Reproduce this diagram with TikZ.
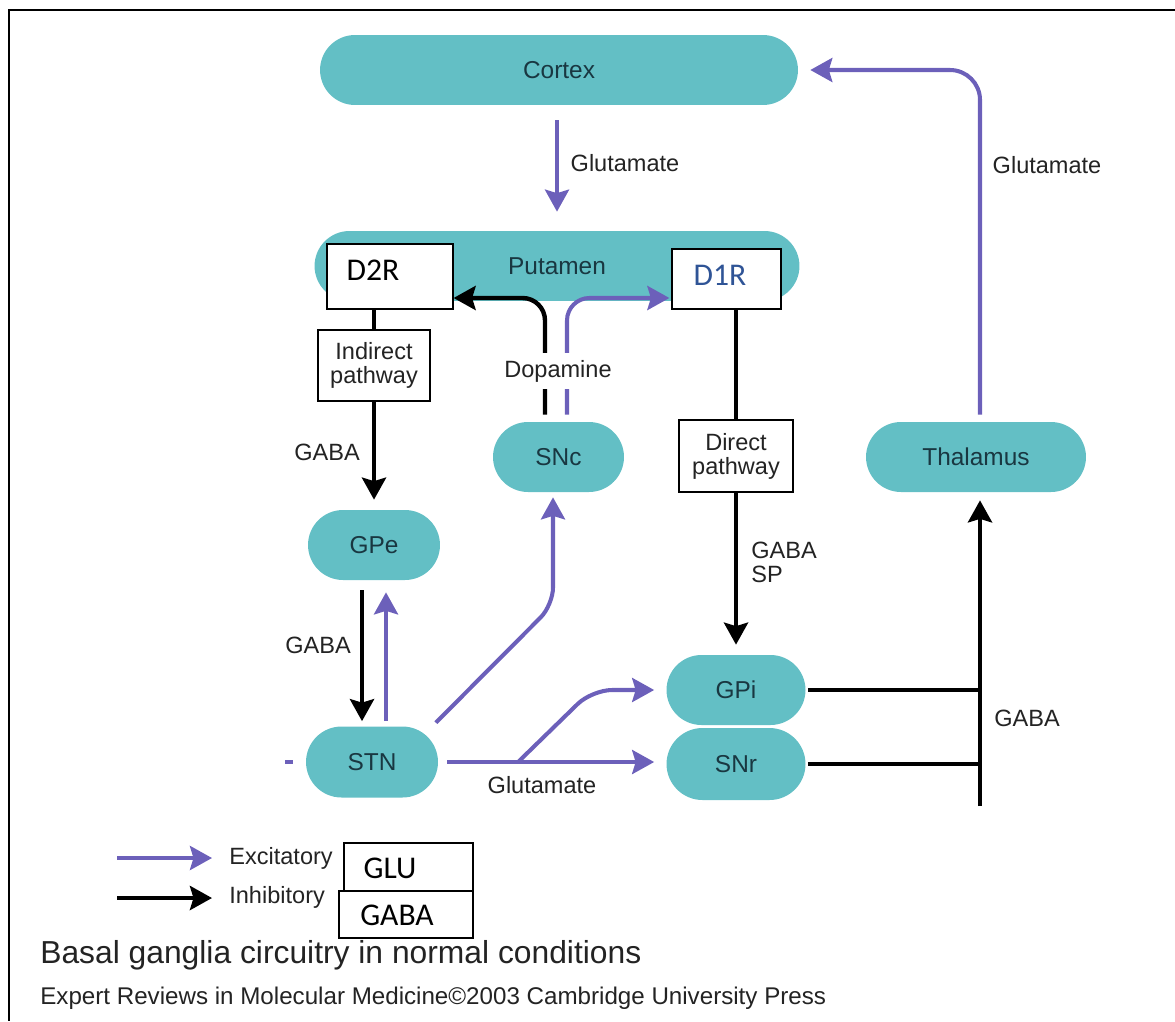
\documentclass[tikz,border=0pt]{standalone}
\usepackage{fontspec}
\setmainfont{Liberation Sans}
\newfontfamily\calib{Carlito}
\usetikzlibrary{arrows.meta,calc}
\definecolor{teal0}{RGB}{99,191,197}
\definecolor{purp}{RGB}{108,96,186}
\definecolor{ntext}{RGB}{25,55,65}
\definecolor{dblue}{RGB}{47,84,150}
\definecolor{lab}{RGB}{35,35,35}
\begin{document}
\begin{tikzpicture}[x=0.02cm,y=-0.02cm,
  nuc/.style={fill=teal0, draw=none, rounded corners=0.7cm, minimum height=1.4cm, inner sep=0pt,
    font=\fontsize{13.9}{16}\selectfont, text=ntext},
  pbox/.style={draw=black, line width=1.4pt, fill=white, inner sep=0pt, align=center,
    font=\fontsize{13.4}{13.6}\selectfont, text=lab},
  rbox/.style={draw=black, line width=0.7pt, fill=white, inner sep=0pt},
  rtext/.style={font=\calib\fontsize{18}{20}\selectfont, inner sep=0pt},
  lbl/.style={font=\fontsize{13.4}{13.6}\selectfont, text=lab, inner sep=0pt, align=left},
  tipS/.style={-{Stealth[length=0.44cm, width=0.48cm, inset=0.07cm]}},
  excl/.style={draw=purp, line width=2.3pt},
  exc/.style={excl, tipS},
  inhl/.style={draw=black, line width=2.5pt},
  inh/.style={inhl, tipS},
]
\useasboundingbox (0,0) rectangle (1175,1021);
% frame
\coordinate (fTL) at (9,10);
\coordinate (fTR) at (1175,10);
\coordinate (fBL) at (9,1021);
\draw[line width=1.2pt] (fTR) -- (fTL) -- (fBL);

% nuclei
\node[nuc, minimum width=9.56cm] (cortex) at (559,70) {Cortex};
\node[nuc, minimum width=9.7cm] (putamen) at (557,266) {Putamen};
\node[nuc, minimum width=2.62cm] (snc) at (558.5,457) {SNc};
\node[nuc, minimum width=4.4cm] (thal) at (976,457) {Thalamus};
\node[nuc, minimum width=2.64cm] (gpe) at (374,545) {GPe};
\node[nuc, minimum width=2.64cm, minimum height=1.42cm, rounded corners=0.71cm] (stn) at (372,762) {STN};
\node[nuc, minimum width=2.78cm] (gpi) at (736,690) {GPi};
\node[nuc, minimum width=2.78cm, minimum height=1.44cm, rounded corners=0.72cm] (snr) at (736,764) {SNr};

% receptor boxes
\node[rbox, minimum width=2.52cm, minimum height=1.3cm] (d2r) at (390,276.5) {};
\node[rtext] (d2rt) at (373,270) {D2R};
\node[rbox, minimum width=2.18cm, minimum height=1.2cm] (d1r) at (726.5,279) {};
\node[rtext, text=dblue] (d1rt) at (720,275) {D1R};

% pathway boxes
\node[pbox, minimum width=2.24cm, minimum height=1.42cm] (ind) at (374,365.5) {Indirect\\pathway};
\node[pbox, minimum width=2.28cm, minimum height=1.44cm] (dir) at (736,456) {Direct\\pathway};

% Cortex -> Putamen
\draw[exc, shorten <=0.3cm, shorten >=0.38cm] (cortex.south -| 557,0) -- (putamen.north -| 557,0);
\node[lbl] (glu1) at (625,163) {Glutamate};
% Thalamus -> Cortex
\draw[exc, rounded corners=0.6cm, shorten <=0.14cm, shorten >=0.24cm] ([xshift=0.08cm]thal.north) |- (cortex.east);
\node[lbl] (glu2) at (1047,165) {Glutamate};

% Indirect
\draw[inhl] (ind.north |- d2r.south) -- (ind.north);
\draw[inh, shorten >=0.2cm] (ind.south) -- (gpe.north);
\node[lbl] (gaba1) at (327,452) {GABA};

% Direct
\draw[inhl] (dir.north |- d1r.south) -- (dir.north);
\draw[inh, shorten >=0.2cm] (dir.south) -- (gpi.north);
\node[lbl, anchor=west] (gabasp) at (751,562) {GABA\\SP};

% Dopamine
\draw[inh, rounded corners=0.45cm, shorten <=0.14cm] ([xshift=-0.27cm]snc.north) |- ([yshift=-0.43cm]d2r.east);
\draw[exc, rounded corners=0.45cm, shorten <=0.14cm, shorten >=0.04cm] ([xshift=0.17cm]snc.north) |- ([yshift=-0.38cm]d1r.west);
\node[lbl, fill=white, inner ysep=4pt, inner xsep=1pt] (dopa) at (558,371) {Dopamine};

% GPe <-> STN
\draw[inh, shorten <=0.2cm, shorten >=0.1cm] ([xshift=-0.24cm]gpe.south) -- ([xshift=-0.24cm]gpe.south |- stn.north);
\draw[exc, shorten <=0.1cm, shorten >=0.24cm] ([xshift=0.24cm]gpe.south |- stn.north) -- ([xshift=0.24cm]gpe.south);
\node[lbl] (gaba2) at (318,645) {GABA};

% STN -> SNc
\draw[exc, rounded corners=0.35cm, shorten <=0.1cm, shorten >=0.1cm] ([xshift=-0.12cm]stn.north east) -- (553,605) -- ([xshift=-0.11cm]snc.south);

% STN -> SNr and branch to GPi
\draw[exc, shorten <=0.18cm, shorten >=0.24cm] (stn.east) -- (stn.east -| snr.west);
\path (stn.east) -- (stn.east -| snr.west) coordinate[pos=0.35] (br);
\draw[exc, rounded corners=0.4cm, shorten >=0.24cm] (br) -- (592,690) -- (gpi.west);
\node[lbl] (glu3) at (542,785) {Glutamate};

% small stub left of STN
\coordinate (stub) at (285,762);
\draw[excl, line width=1.8pt] (stub) -- ++(8,0);

% GPi/SNr -> Thalamus
\coordinate (gj) at (980,806);
\draw[inhl, shorten <=0.04cm] (gpi.east) -- (gpi.east -| gj);
\draw[inhl, shorten <=0.04cm] (snr.east) -- (snr.east -| gj);
\draw[inh, shorten >=0.16cm] (gj) -- (gj |- thal.south);
\node[lbl] (gaba3) at (1027,718) {GABA};

% legend
\node[lbl, anchor=west] (lexc) at (229,858) {Excitatory};
\node[lbl, anchor=west] (linh) at (229,897) {Inhibitory};
\coordinate (le1) at (117,858);
\coordinate (le2) at (117,898);
\draw[exc, shorten >=0.34cm] (le1) -- (lexc.west);
\draw[inh, shorten >=0.34cm] (le2) -- (le2 -| linh.west);
\node[rbox, minimum width=2.58cm, minimum height=0.96cm] (glubox) at (408.5,867) {};
\node[rtext] (glut) at (390,868) {GLU};
\node[rbox, minimum width=2.68cm, minimum height=0.94cm] (gababox) at (406,914.5) {};
\node[rtext] (gabat) at (397,915) {GABA};

% caption
\node[anchor=west, inner sep=0pt, font=\fontsize{18.1}{20}\selectfont, text=lab] (cap) at (40,955) {Basal ganglia circuitry in normal conditions};
\node[anchor=west, inner sep=0pt, font=\fontsize{13.75}{15}\selectfont, text=lab] (copy) at (40,998) {Expert Reviews in Molecular Medicine\textcopyright 2003 Cambridge University Press};
\end{tikzpicture}
\end{document}
